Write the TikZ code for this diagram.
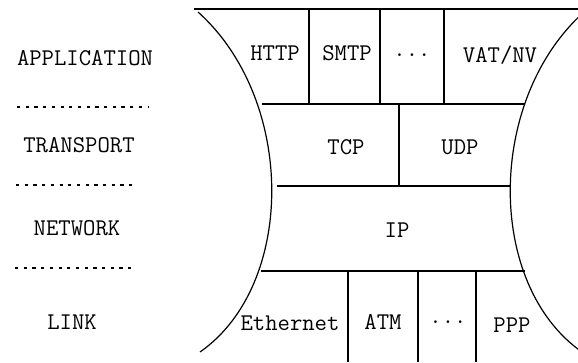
\documentclass[tikz,border=0pt]{standalone}
\usepackage{fontspec}
\usepackage{tikz}
\usetikzlibrary{positioning, calc}
\tikzset{
	layertext/.style={
			font=\ttfamily\fontsize{24}{28}\selectfont,
			inner sep=0pt,
			text=black
		},
	protolabel/.style={
			layertext
		},
	boxline/.style={
			draw=black,
			line width=1.2pt
		},
	sepline/.style={
			draw=black,
			line width=1.6pt,
			dash pattern=on 3.2pt off 5.5pt
		}
}

\begin{document}
\begin{tikzpicture}[x=1pt,y=-1pt]
\useasboundingbox (0,0) rectangle (578,362);

% layer names
\node[layertext] (lApp) at (85,58) {APPLICATION};
\node[layertext] (lTrans) at (79,145) {TRANSPORT};
\node[layertext] (lNet) at (77,228) {NETWORK};
\node[layertext] (lLink) at (72,322) {LINK};

\draw[sepline] (17,107) -- (148,107);
\draw[sepline] (16,185) -- (134,185);
\draw[sepline] (15,268) -- (134,268);

% hourglass outline
\draw[boxline] (194,9) -- (578,9);
\draw[boxline] (198,12) .. controls (296,100) and (296,285) .. (200,352);
\draw[boxline] (584,12) .. controls (486,100) and (486,285) .. (582,352);

\draw[boxline] (262,104) -- (525,104);
\draw[boxline] (277,186) -- (511,186);
\draw[boxline] (261,271) -- (525,271);

% application
\draw[boxline] (309,9) -- (309,104);
\draw[boxline] (380,9) -- (380,104);
\draw[boxline] (444,9) -- (444,104);
\node[protolabel] (pHttp) at (275,53) {HTTP};
\node[protolabel] (pSmtp) at (347,53) {SMTP};
\node[protolabel] (pAppDots) at (412,55) {...};
\node[protolabel] (pVat) at (500,55) {VAT/NV};

% transport
\draw[boxline] (399,104) -- (399,186);
\node[protolabel] (pTcp) at (346,147) {TCP};
\node[protolabel] (pUdp) at (460,147) {UDP};

% network
\node[protolabel] (pIp) at (397,230) {IP};

% link
\draw[boxline] (348,271) -- (348,362);
\draw[boxline] (418,271) -- (418,362);
\draw[boxline] (476,271) -- (476,362);
\node[protolabel] (pEth) at (290,323) {Ethernet};
\node[protolabel] (pAtm) at (383,322) {ATM};
\node[protolabel] (pLinkDots) at (448,322) {...};
\node[protolabel] (pPpp) at (512,325) {PPP};

\end{tikzpicture}
\end{document}
